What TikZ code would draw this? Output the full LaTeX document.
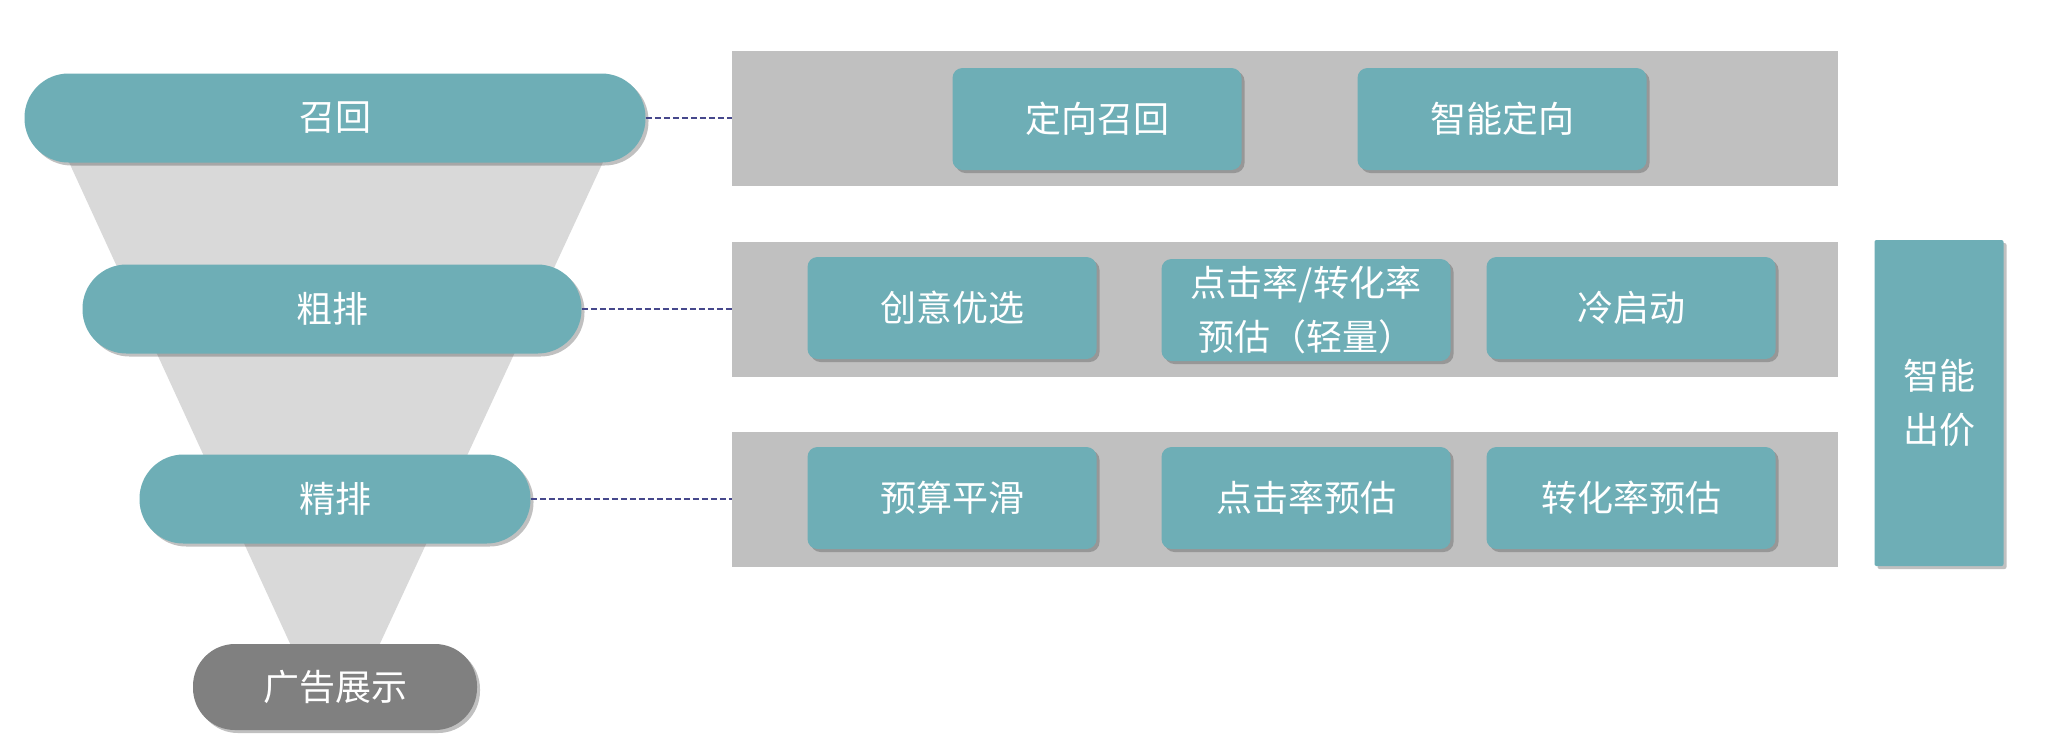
\documentclass[tikz,border=0pt]{standalone}
\usepackage{fontspec}
\newfontfamily\cjk{Noto Sans CJK SC}
\usetikzlibrary{shadows}
\definecolor{teal1}{RGB}{110,174,182}
\definecolor{boxgray}{RGB}{192,192,192}
\definecolor{funnelgray}{RGB}{217,217,217}
\definecolor{showgray}{RGB}{128,128,128}
\definecolor{dashcol}{RGB}{70,72,140}
\tikzset{
  shad/.style={drop shadow={shadow xshift=1.5pt,shadow yshift=-1.5pt,opacity=0.35,fill=black!70}},
  pill/.style={shape=rectangle,rounded corners=22pt,fill=teal1,text=white,shad,
    minimum height=44.5pt,inner sep=0pt,font=\cjk\fontsize{18}{26}\selectfont},
  showpill/.style={pill,fill=showgray,minimum height=43pt,rounded corners=21pt},
  band/.style={shape=rectangle,fill=boxgray,minimum width=553pt,minimum height=67.5pt,inner sep=0pt},
  tbox/.style={shape=rectangle,rounded corners=5pt,fill=teal1,text=white,shad,
    minimum width=144.5pt,minimum height=51pt,inner sep=0pt,align=center,
    font=\cjk\fontsize{18}{27}\selectfont},
  bidbox/.style={tbox,rounded corners=1pt,minimum width=64.5pt,minimum height=163pt},
  link/.style={dashcol,dashed,line width=1.1pt,dash pattern=on 3pt off 1.5pt}
}
\begin{document}
\begin{tikzpicture}[x=0.5pt,y=-0.5pt]
\fill[white] (0,0) rectangle (2056,752);
\useasboundingbox (0,0) rectangle (2056,752);
% funnel
\fill[funnelgray] (68,160) -- (604,160) -- (377,650) -- (293,650) -- cycle;
% right bands
\node[band] (b1) at (1285,118) {};
\node[band] (b2) at (1285,309) {};
\node[band] (b3) at (1285,499) {};
% funnel pills
\node[pill,minimum width=310.5pt] (recall) at (335,118) {召回};
\node[pill,minimum width=249.5pt] (coarse) at (332,309) {粗排};
\node[pill,minimum width=195.5pt] (fine) at (335,499) {精排};
\node[showpill,minimum width=142pt] (show) at (335,687) {广告展示};
% connectors
\draw[link] (recall.east) -- (b1.west |- recall.east);
\draw[link] (coarse.east) -- (b2.west |- coarse.east);
\draw[link] (fine.east) -- (b3.west |- fine.east);
% row 1
\node[tbox] (r1a) at (1097,119) {定向召回};
\node[tbox] (r1b) at (1502,119) {智能定向};
% row 2
\node[tbox] (r2a) at (952,308) {创意优选};
\node[tbox] (r2b) at (1306,310) {点击率/转化率\\预估（轻量）};
\node[tbox] (r2c) at (1631,308) {冷启动};
% row 3
\node[tbox] (r3a) at (952,498) {预算平滑};
\node[tbox] (r3b) at (1306,498) {点击率预估};
\node[tbox] (r3c) at (1631,498) {转化率预估};
% bidding
\node[bidbox] (bid) at (1939,403) {智能\\出价};
\end{tikzpicture}
\end{document}
